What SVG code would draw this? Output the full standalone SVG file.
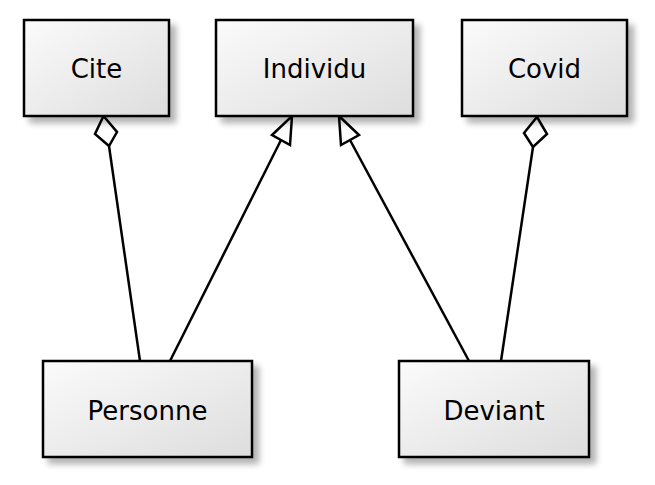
<svg xmlns="http://www.w3.org/2000/svg" width="655" height="485" viewBox="0 0 655 485">
<style>
.box{fill:url(#g);stroke:#000;stroke-width:2.5;filter:url(#sh)}
.lbl{font-family:"DejaVu Sans",sans-serif;font-size:26px;fill:#000;text-anchor:middle}
.ln{stroke:#000;stroke-width:2.5;fill:none}
.hd{stroke:#000;stroke-width:2.5;fill:#fff;stroke-linejoin:miter}
</style>
<defs>
<linearGradient id="g" x1="0" y1="0" x2="1" y2="1">
<stop offset="0" stop-color="#fbfbfb"/>
<stop offset="1" stop-color="#dddddd"/>
</linearGradient>
<filter id="sh" x="-20%" y="-20%" width="150%" height="150%">
<feGaussianBlur in="SourceAlpha" stdDeviation="3"/>
<feOffset dx="6" dy="6" result="b"/>
<feComponentTransfer><feFuncA type="linear" slope="0.3"/></feComponentTransfer>
<feMerge><feMergeNode/><feMergeNode in="SourceGraphic"/></feMerge>
</filter>
</defs>
<g id="connectors">
<line class="ln" x1="109" y1="146" x2="140" y2="361"/>
<polygon class="hd" points="103.5,116 117,132 109,146 95,134"/>
<line class="ln" x1="281" y1="140" x2="170" y2="361"/>
<polygon class="hd" points="292,116 290,145 272,135"/>
<line class="ln" x1="350" y1="140" x2="469" y2="361"/>
<polygon class="hd" points="339,116 359,135 341,145"/>
<line class="ln" x1="533" y1="147" x2="501" y2="361"/>
<polygon class="hd" points="537,117 547,134 533,147 524,133"/>
</g>
<g id="Cite"><rect class="box" x="24" y="20" width="145" height="96"/><text class="lbl" x="96.5" y="78">Cite</text></g>
<g id="Individu"><rect class="box" x="216" y="20" width="197" height="96"/><text class="lbl" x="314.5" y="78">Individu</text></g>
<g id="Covid"><rect class="box" x="462" y="20" width="165" height="96"/><text class="lbl" x="544.5" y="78">Covid</text></g>
<g id="Personne"><rect class="box" x="43" y="361" width="209" height="96"/><text class="lbl" x="147.5" y="420">Personne</text></g>
<g id="Deviant"><rect class="box" x="399" y="361" width="190" height="96"/><text class="lbl" x="494" y="420">Deviant</text></g>
</svg>
